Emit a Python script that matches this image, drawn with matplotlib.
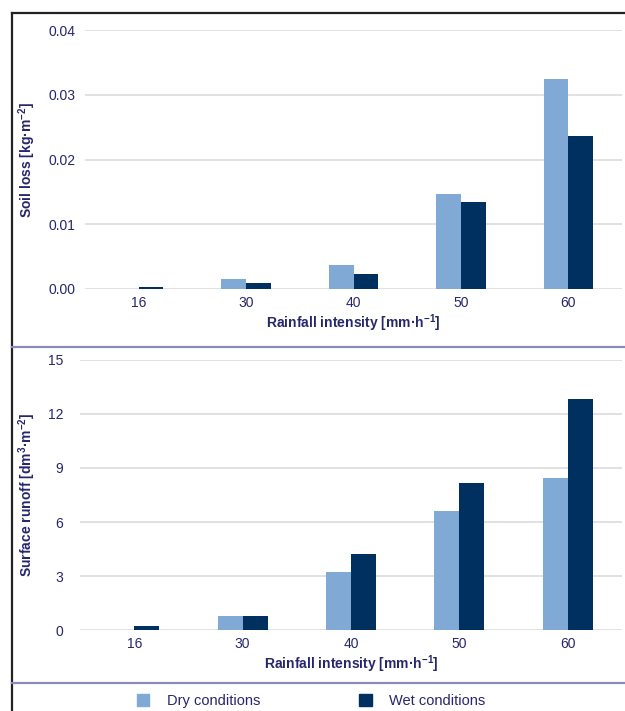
import matplotlib.pyplot as plt
import numpy as np
from matplotlib.lines import Line2D
from matplotlib.patches import Patch

plt.rcParams['font.family'] = ['Liberation Sans', 'DejaVu Sans']
plt.rcParams['mathtext.default'] = 'regular'

# Rainfall intensity classes and measured results
intensity = ["16", "30", "40", "50", "60"]
soil_dry = [0.0, 0.0015, 0.0037, 0.0146, 0.0324]
soil_wet = [0.0003, 0.0009, 0.0023, 0.0134, 0.0236]
runoff_dry = [0.0, 0.78, 3.24, 6.6, 8.43]
runoff_wet = [0.25, 0.78, 4.22, 8.15, 12.85]

soil_ticks = [0.0, 0.01, 0.02, 0.03, 0.04]
runoff_ticks = [0, 3, 6, 9, 12, 15]

DRY = "#80a9d6"
WET = "#00305f"
TXT = "#26266e"
GRID = "#dcdcdc"

W, H = 625, 711
fig = plt.figure(figsize=(W / 100, H / 100), dpi=100)

x = np.arange(len(intensity))
bw = 0.23


def draw_panel(ax, dry, wet, ticks, fmt, pad):
    ax.bar(x - bw / 2, dry, bw, color=DRY, zorder=3)
    ax.bar(x + bw / 2, wet, bw, color=WET, zorder=3)
    ax.set_xlim(-0.5, len(intensity) - 0.5)
    ax.set_ylim(ticks[0], ticks[-1])
    ax.set_yticks(ticks)
    ax.set_yticklabels([fmt.format(t) for t in ticks])
    ax.set_xticks(x)
    ax.set_xticklabels(intensity)
    ax.grid(axis="y", color=GRID, linewidth=1.2, zorder=0)
    for s in ax.spines.values():
        s.set_visible(False)
    ax.tick_params(axis="y", length=0, pad=pad, labelsize=10, labelcolor=TXT)
    ax.tick_params(axis="x", length=0, pad=5, labelsize=10, labelcolor=TXT)
    ax.set_xlabel("Rainfall intensity [mm·h$^{-1}$]", fontsize=10,
                  fontweight="bold", color=TXT, labelpad=2)


# soil loss panel
ax1 = fig.add_axes([85 / W, 1 - 289 / H, 537 / W, 259 / H])
draw_panel(ax1, soil_dry, soil_wet, soil_ticks, "{:.2f}", 7)
fig.text(27 / W, 1 - 160 / H, "Soil loss [kg·m$^{-2}$]", rotation=90,
         ha="center", va="center", fontsize=10, fontweight="bold", color=TXT)

# surface runoff panel
ax2 = fig.add_axes([80 / W, 1 - 630 / H, 542 / W, 270 / H])
draw_panel(ax2, runoff_dry, runoff_wet, runoff_ticks, "{:d}", 12)
fig.text(27 / W, 1 - 495 / H, "Surface runoff [dm$^{3}$·m$^{-2}$]", rotation=90,
         ha="center", va="center", fontsize=10, fontweight="bold", color=TXT)

# frame and separators
fig.add_artist(Line2D([12 / W, 1], [1 - 13 / H] * 2, color="#222222", lw=1.6))
fig.add_artist(Line2D([12 / W] * 2, [0, 1 - 13 / H], color="#222222", lw=1.6))
for yy in (347, 683):
    fig.add_artist(Line2D([12 / W, 1], [1 - yy / H] * 2, color="#8a8abb", lw=1.6))

handles = [Patch(color=DRY, label="Dry conditions"),
           Patch(color=WET, label="Wet conditions")]
leg = fig.legend(handles=handles, loc="center left",
                 bbox_to_anchor=(137 / W, 1 - 701 / H), ncol=2, frameon=False,
                 fontsize=10.5, handlelength=0.85, handleheight=0.85,
                 handletextpad=1.2, columnspacing=6.8, borderpad=0,
                 borderaxespad=0)
for t in leg.get_texts():
    t.set_color(TXT)

fig.savefig("out.png", dpi=100)
